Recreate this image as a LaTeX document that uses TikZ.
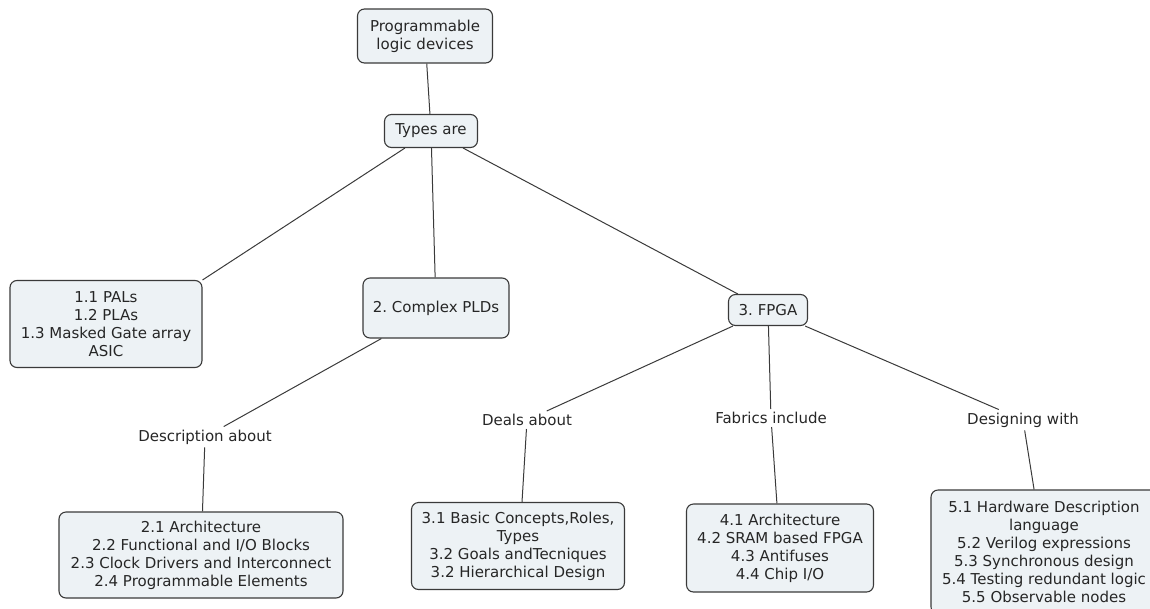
\documentclass[tikz,border=0pt]{standalone}
\usepackage{fontspec}
\setmainfont{DejaVu Sans}
\frenchspacing
\definecolor{boxfill}{HTML}{EDF2F5}
\definecolor{boxline}{HTML}{3A3A3A}
\definecolor{ink}{HTML}{262626}

\begin{document}
\begin{tikzpicture}[x=1pt,y=-1pt,font=\fontsize{15}{18}\selectfont,
  concept/.style={draw=boxline,fill=boxfill,line width=1.1pt,rounded corners=7pt,
    align=center,inner sep=0pt,text=ink},
  linker/.style={inner sep=3pt,text=ink},
  link/.style={draw=boxline,line width=1pt}]
  \useasboundingbox (0,0) rectangle (1150,608);
  % concepts
  \node[concept,minimum width=135pt,minimum height=54pt] (plc) at (425,36) {Programmable\\logic devices};
  \node[concept,minimum width=93pt,minimum height=33pt] (types) at (431,131) {Types are};
  \node[concept,minimum width=192pt,minimum height=87pt] (pals) at (106,324)
    {1.1 PALs\\1.2 PLAs\\1.3 Masked Gate array\\ASIC};
  \node[concept,minimum width=146pt,minimum height=60pt] (cpld) at (436,308) {2. Complex PLDs};
  \node[concept,minimum width=79pt,minimum height=31pt] (fpga) at (768,310) {3. FPGA};
  \node[concept,minimum width=284pt,minimum height=86pt] (arch) at (201,555)
    {2.1 Architecture\\2.2 Functional and I/O Blocks\\2.3 Clock Drivers and Interconnect\\2.4 Programmable Elements};
  \node[concept,minimum width=213pt,minimum height=87pt] (basics) at (518,546)
    {3.1 Basic Concepts,Roles,\\Types\\3.2 Goals andTecniques\\3.2 Hierarchical Design};
  \node[concept,minimum width=187pt,minimum height=88pt] (fabric) at (780,548)
    {4.1 Architecture\\4.2 SRAM based FPGA\\4.3 Antifuses\\4.4 Chip I/O};
  \node[concept,minimum width=226pt,minimum height=124pt] (hdl) at (1044,552)
    {5.1 Hardware Description\\language\\5.2 Verilog expressions\\5.3 Synchronous design\\5.4 Testing redundant logic\\5.5 Observable nodes};
  % linking phrases
  \node[linker] (desc) at (205,437) {Description about};
  \node[linker] (deals) at (527,420) {Deals about};
  \node[linker] (fabinc) at (771,418) {Fabrics include};
  \node[linker] (design) at (1023,420) {Designing with};
  % connectors
  \draw[link] (plc) -- (types);
  \draw[link] (types) -- (pals.north east);
  \draw[link] (types) -- (cpld);
  \draw[link] (types) -- (fpga);
  \draw[link] (cpld) -- (desc);
  \draw[link] (desc) -- (arch);
  \draw[link] (fpga) -- (deals);
  \draw[link] (deals) -- ([xshift=4pt]basics.north);
  \draw[link] (fpga) -- (fabinc);
  \draw[link] (fabinc) -- (fabric);
  \draw[link] (fpga) -- (design);
  \draw[link] (design) -- (hdl);
\end{tikzpicture}
\end{document}
